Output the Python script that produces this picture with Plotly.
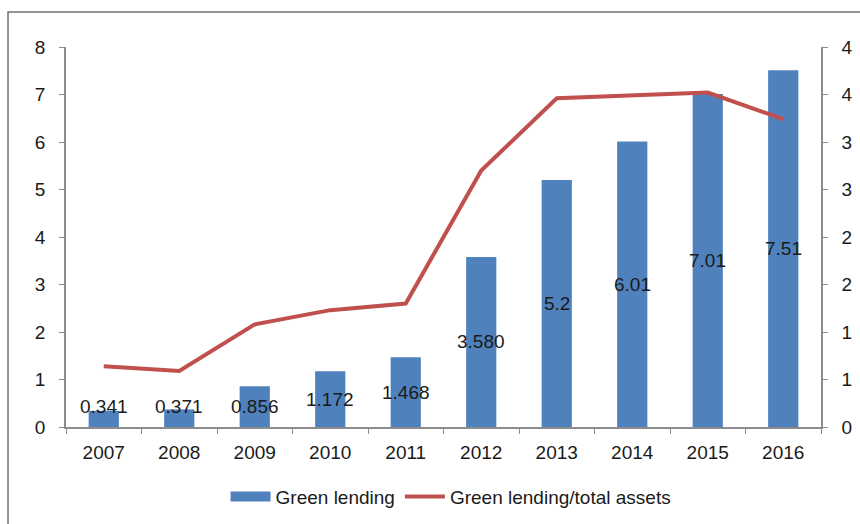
import plotly.graph_objects as go

years = ["2007", "2008", "2009", "2010", "2011", "2012", "2013", "2014", "2015", "2016"]
green_lending = [0.341, 0.371, 0.856, 1.172, 1.468, 3.580, 5.2, 6.01, 7.01, 7.51]
lending_labels = ["0.341", "0.371", "0.856", "1.172", "1.468", "3.580", "5.2", "6.01", "7.01", "7.51"]
ratio = [0.64, 0.59, 1.08, 1.23, 1.30, 2.70, 3.46, 3.49, 3.52, 3.24]
left_ticks = [0, 1, 2, 3, 4, 5, 6, 7, 8]
right_tickvals = [0, 0.5, 1, 1.5, 2, 2.5, 3, 3.5, 4]
right_ticktext = ["0", "1", "1", "2", "2", "3", "3", "4", "4"]

BLUE = "#4F81BD"
RED = "#C0504D"
FONT = "Liberation Sans, Arial, sans-serif"
TXT = "#1a1a1a"
AXC = "#8c8c8c"
FS = 19

fig = go.Figure()
fig.add_trace(go.Bar(x=years, y=green_lending, marker=dict(color=BLUE, line=dict(width=0)),
                     width=0.4, showlegend=False, name="Green lending"))
# legend entry for the bars (wide rectangle swatch)
fig.add_trace(go.Scatter(x=[years[0]], y=[None], mode="lines", line=dict(color=BLUE, width=10),
                         name="Green lending", hoverinfo="skip"))
fig.add_trace(go.Scatter(x=years, y=ratio, mode="lines", yaxis="y2",
                         line=dict(color=RED, width=4, shape="linear"),
                         name="Green lending/total assets"))

for i, (v, lab) in enumerate(zip(green_lending, lending_labels)):
    fig.add_annotation(x=i, y=max(v / 2, 0.44), text=lab, showarrow=False,
                       font=dict(family=FONT, size=FS, color=TXT), xref="x", yref="y")

# outer frame (top and left edges visible)
fig.add_shape(type="rect", xref="paper", yref="paper", x0=-0.0768, x1=1.6, y0=-1.0, y1=1.092,
              line=dict(color="#707070", width=1.5), layer="below")

fig.update_layout(
    width=860, height=524,
    margin=dict(l=66, r=39, t=47, b=97, autoexpand=False),
    paper_bgcolor="white", plot_bgcolor="white",
    font=dict(family=FONT, size=FS, color=TXT),
    xaxis=dict(type="category", categoryorder="array", categoryarray=years, range=[-0.5, 9.5],
               showline=True, linecolor=AXC, linewidth=1.5,
               ticks="outside", tickson="boundaries", ticklen=5, tickcolor=AXC,
               showgrid=False, tickfont=dict(size=FS, color=TXT), tickangle=0,
               ticklabelstandoff=7),
    yaxis=dict(range=[0, 8], tickvals=left_ticks, showline=True, linecolor=AXC, linewidth=1.5,
               ticks="outside", ticklen=5, tickcolor=AXC, showgrid=False, zeroline=False,
               tickfont=dict(size=FS, color=TXT), ticklabelstandoff=10),
    yaxis2=dict(range=[0, 4], overlaying="y", side="right", tickvals=right_tickvals,
                ticktext=right_ticktext, showline=True, linecolor=AXC, linewidth=1.5,
                ticks="outside", ticklen=5, tickcolor=AXC, showgrid=False, zeroline=False,
                tickfont=dict(size=FS, color=TXT), ticklabelstandoff=10),
    legend=dict(orientation="h", x=0.51, xanchor="center", yref="container", y=0.052,
                yanchor="middle",
                font=dict(size=FS, color=TXT), itemwidth=40, tracegroupgap=0,
                bgcolor="rgba(0,0,0,0)"),
)

fig.write_html("out.html")
